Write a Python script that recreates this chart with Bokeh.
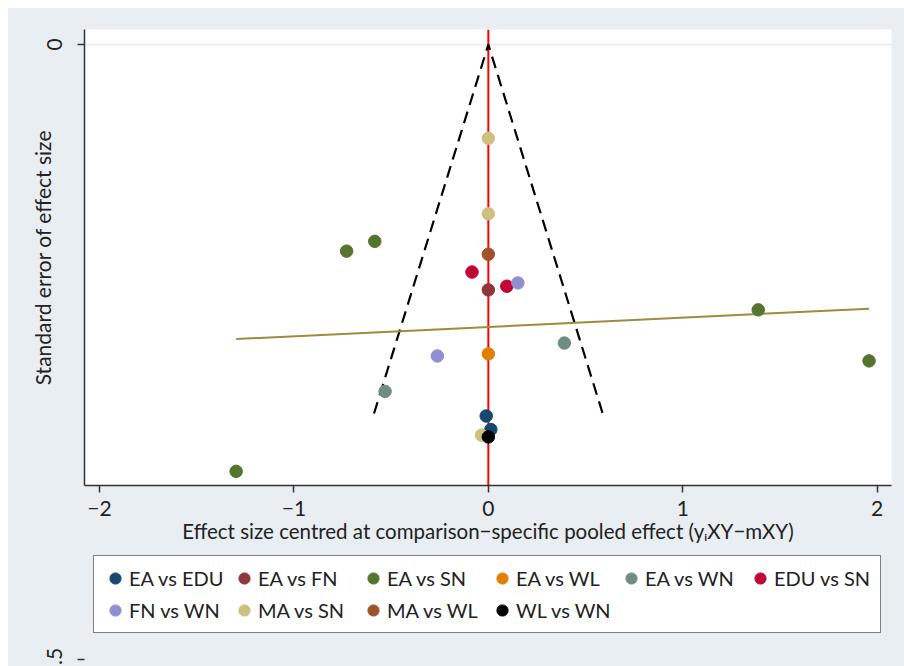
from bokeh.plotting import figure
from bokeh.layouts import column
from bokeh.models import Range1d, FixedTicker, Legend, LegendItem, Span
from bokeh.embed import file_html
from bokeh.resources import INLINE

# ---------------- data ----------------
comparisons = ["EA vs EDU", "EA vs FN", "EA vs SN", "EA vs WL", "EA vs WN",
               "EDU vs SN", "FN vs WN", "MA vs SN", "MA vs WL", "WL vs WN"]
comparison_colors = ["#1a476f", "#90353b", "#55752f", "#e37e00", "#6e8e84",
                     "#c10534", "#938dd2", "#cac27e", "#a0522d", "#000000"]

study_comparison = ["EA vs EDU", "EA vs EDU",
                    "EA vs FN",
                    "EA vs SN", "EA vs SN", "EA vs SN", "EA vs SN", "EA vs SN",
                    "EA vs WL",
                    "EA vs WN", "EA vs WN",
                    "EDU vs SN", "EDU vs SN",
                    "FN vs WN", "FN vs WN",
                    "MA vs SN", "MA vs SN", "MA vs SN",
                    "MA vs WL",
                    "WL vs WN"]
study_effect = [-0.011, 0.013,
                0.0,
                -0.584, -0.729, 1.388, 1.958, -1.297,
                0.0,
                0.391, -0.531,
                -0.084, 0.095,
                0.152, -0.262,
                0.0, 0.0, -0.035,
                0.0,
                0.0]
study_se = [0.302, 0.313,
            0.1995,
            0.160, 0.168, 0.2157, 0.2572, 0.347,
            0.2515,
            0.2427, 0.282,
            0.185, 0.1965,
            0.1938, 0.2532,
            0.0763, 0.1376, 0.3176,
            0.1705,
            0.319]

reg_intercept = 0.2296
reg_slope = -0.0076
funnel_se_max = 0.30
z95 = 1.96

x_ticks = [-2, -1, 0, 1, 2]
x_tick_labels = ["\u22122", "\u22121", "0", "1", "2"]
y_ticks = [0, 0.5]
y_tick_labels = ["0", ".5"]

FONT = "Lato"
BG = "#e8eef1"
AXIS_COLOR = "#333333"
TEXT_COLOR = "#222222"


def style_axis(ax):
    ax.axis_line_color = AXIS_COLOR
    ax.axis_line_width = 1.5
    ax.major_tick_line_color = AXIS_COLOR
    ax.major_tick_line_width = 1.5
    ax.major_tick_out = 7
    ax.major_tick_in = 0
    ax.minor_tick_line_color = None
    ax.major_label_text_font = FONT
    ax.major_label_text_font_size = "21px"
    ax.major_label_text_color = TEXT_COLOR
    ax.axis_label_text_font = FONT
    ax.axis_label_text_font_style = "normal"
    ax.axis_label_text_color = TEXT_COLOR


# ---------------- main panel ----------------
x_range = Range1d(-2.077, 2.0735)
p = figure(frame_width=807, frame_height=456, output_backend="svg",
           toolbar_location=None,
           x_range=x_range, y_range=Range1d(0.3585, -0.0122),
           min_border_left=76, min_border_right=13, min_border_top=21,
           min_border_bottom=65,
           background_fill_color="white", border_fill_color=BG,
           outline_line_color=None)

p.xgrid.visible = False
p.ygrid.ticker = FixedTicker(ticks=[y_ticks[0]])
p.ygrid.grid_line_color = "#e6ecef"
p.ygrid.grid_line_width = 1.5

p.xaxis.ticker = FixedTicker(ticks=x_ticks)
p.xaxis.major_label_overrides = {t: l for t, l in zip(x_ticks, x_tick_labels)}
p.yaxis.ticker = FixedTicker(ticks=[y_ticks[0]])
p.yaxis.major_label_overrides = {y_ticks[0]: y_tick_labels[0]}
p.yaxis.major_label_orientation = "vertical"
style_axis(p.xaxis[0])
style_axis(p.yaxis[0])

p.xaxis.major_label_standoff = 8
p.xaxis.axis_label = "Effect size centred at comparison\u2212specific pooled effect (y\u1d62XY\u2212mXY)"
p.xaxis.axis_label_text_font_size = "20.5px"
p.xaxis.axis_label_standoff = 0

p.yaxis.major_label_standoff = 15
p.yaxis.axis_label = "Standard error of effect size"
p.yaxis.axis_label_text_font_size = "21px"
p.yaxis.axis_label_standoff = -10

# null-effect line
p.add_layout(Span(location=0, dimension="height", line_color="#ff0000",
                  line_width=2, level="underlay"))

# pseudo 95% confidence funnel
fx = [-z95 * funnel_se_max, 0, z95 * funnel_se_max]
fy = [funnel_se_max, 0, funnel_se_max]
p.line(fx, fy, line_color="black", line_width=2.2, line_dash="12 7")

# regression line across the range of effects
rx = [min(study_effect), max(study_effect)]
ry = [reg_intercept + reg_slope * v for v in rx]
p.line(rx, ry, line_color="#9f8a3e", line_width=2)

# studies
for comp, col in zip(comparisons, comparison_colors):
    xs = [e for c, e in zip(study_comparison, study_effect) if c == comp]
    ys = [s for c, s in zip(study_comparison, study_se) if c == comp]
    p.scatter(xs, ys, size=12.5, fill_color=col, line_color=col, line_width=1)

# ---------------- lower strip: legend and the .5 tick of the y scale ----------------
# The y scale continues below the x-axis title (same px per unit as above).
LEG_H = 116
lg = figure(width=896, height=LEG_H, output_backend="svg", toolbar_location=None,
            x_range=x_range, y_range=Range1d(0.5057, 0.4114),
            x_axis_location=None, y_axis_location="left",
            min_border_left=76, min_border_right=13,
            min_border_top=0, min_border_bottom=0,
            background_fill_color=BG, border_fill_color=BG,
            outline_line_color=None)
lg.xgrid.visible = False
lg.ygrid.visible = False
lg.yaxis.ticker = FixedTicker(ticks=[y_ticks[1]])
lg.yaxis.major_label_overrides = {y_ticks[1]: y_tick_labels[1]}
lg.yaxis.major_label_orientation = "vertical"
style_axis(lg.yaxis[0])
lg.yaxis.axis_line_color = None
lg.yaxis.major_label_standoff = 15

items = []
for comp, col in zip(comparisons, comparison_colors):
    xs = [e for c, e in zip(study_comparison, study_effect) if c == comp]
    ys = [s for c, s in zip(study_comparison, study_se) if c == comp]
    r = lg.scatter(xs, ys, size=12, fill_color=col, line_color=col)
    items.append(LegendItem(label=comp, renderers=[r]))

# location = bottom-left corner of the legend box, px from the strip's bottom-left
legend = Legend(items=items, orientation="horizontal", ncols=6,
                location=(9, 33),
                label_text_font=FONT, label_text_font_size="20px",
                label_text_color=TEXT_COLOR,
                glyph_width=28, glyph_height=30, label_height=30,
                label_width=99, label_standoff=0, spacing=2, padding=7,
                margin=0,
                border_line_color="black", border_line_width=1.3,
                background_fill_color="white", background_fill_alpha=1)
lg.add_layout(legend, "center")

layout = column(p, lg, spacing=0, margin=(8, 0, 0, 8),
                styles={"background-color": BG})
open("out.html", "w").write(file_html(layout, INLINE))
